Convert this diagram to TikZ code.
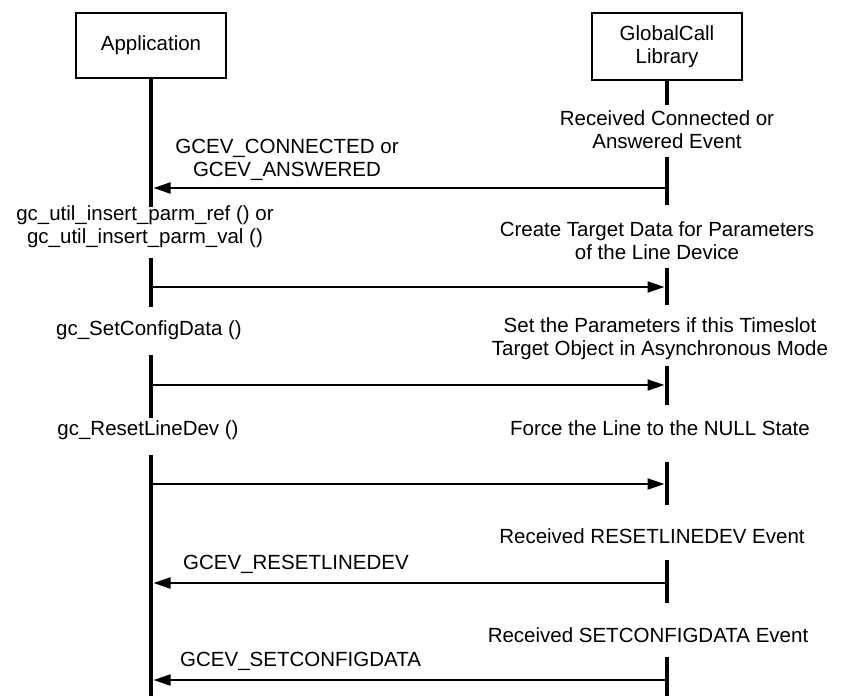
\documentclass[tikz,border=0pt]{standalone}
\usepackage{fontspec}
\setmainfont{Liberation Sans}
\usetikzlibrary{arrows.meta}
\begin{document}
\begin{tikzpicture}[x=1pt,y=-1pt,
  lbl/.style={inner sep=0pt,font=\fontsize{20.5}{23}\selectfont,align=center},
  lifebox/.style={draw,line width=2pt,minimum width=150pt,inner sep=0pt,font=\fontsize{20.5}{23}\selectfont,align=center},
  life/.style={line width=4.5pt},
  msg/.style={line width=2pt,-{Triangle[length=17pt,width=11pt]}}]
\useasboundingbox (0,0) rectangle (845,696);
% boxes
\node[lifebox,minimum height=65pt] (app) at (151,45.5) {Application};
\node[lifebox,minimum height=67pt] (gcl) at (667,46.5) {GlobalCall\\Library};
% left lifeline coordinates
\coordinate (l1b) at (151,207);
\coordinate (l2a) at (151,258); \coordinate (l2b) at (151,307);
\coordinate (l3a) at (151,355); \coordinate (l3b) at (151,418);
\coordinate (l4a) at (151,455); \coordinate (l4b) at (151,696);
% right lifeline coordinates
\coordinate (r1b) at (667,105);
\coordinate (r2a) at (667,157); \coordinate (r2b) at (667,205);
\coordinate (r3a) at (667,268); \coordinate (r3b) at (667,305);
\coordinate (r4a) at (667,366); \coordinate (r4b) at (667,405);
\coordinate (r5a) at (667,462); \coordinate (r5b) at (667,505);
\coordinate (r6a) at (667,560); \coordinate (r6b) at (667,603);
\coordinate (r7a) at (667,657); \coordinate (r7b) at (667,696);
\draw[life] (app.south) -- (l1b);
\draw[life] (l2a) -- (l2b);
\draw[life] (l3a) -- (l3b);
\draw[life] (l4a) -- (l4b);
\draw[life] (gcl.south) -- (r1b);
\draw[life] (r2a) -- (r2b);
\draw[life] (r3a) -- (r3b);
\draw[life] (r4a) -- (r4b);
\draw[life] (r5a) -- (r5b);
\draw[life] (r6a) -- (r6b);
\draw[life] (r7a) -- (r7b);
% message endpoints
\coordinate (m1l) at (153.5,188); \coordinate (m1r) at (667,188);
\coordinate (m2l) at (151,287);   \coordinate (m2r) at (664.5,287);
\coordinate (m3l) at (151,385);   \coordinate (m3r) at (664.5,385);
\coordinate (m4l) at (151,484);   \coordinate (m4r) at (664.5,484);
\coordinate (m5l) at (153.5,583); \coordinate (m5r) at (667,583);
\coordinate (m6l) at (153.5,680); \coordinate (m6r) at (667,680);
\draw[msg] (m1r) -- (m1l);
\draw[msg] (m2l) -- (m2r);
\draw[msg] (m3l) -- (m3r);
\draw[msg] (m4l) -- (m4r);
\draw[msg] (m5r) -- (m5l);
\draw[msg] (m6r) -- (m6l);
% right labels
\node[lbl] (t1) at (667,129.5) {Received Connected or\\Answered Event};
\node[lbl] (t2) at (657,241) {Create Target Data for Parameters\\of the Line Device};
\node[lbl] (t3) at (660,338.5) {Set the Parameters if this Timeslot\\Target Object in Asynchronous Mode};
\node[lbl] (t4) at (660,428) {Force the Line to the NULL State};
\node[lbl] (t5) at (652,536) {Received RESETLINEDEV Event};
\node[lbl] (t6) at (648,635) {Received SETCONFIGDATA Event};
% left labels
\node[lbl] (s1) at (287,159.5) {GCEV\_CONNECTED or\\GCEV\_ANSWERED};
\node[lbl] (s2) at (145,227) {gc\_util\_insert\_parm\_ref () or\\gc\_util\_insert\_parm\_val ()};
\node[lbl] (s3) at (149,330) {gc\_SetConfigData ()};
\node[lbl] (s4) at (148,430) {gc\_ResetLineDev ()};
\node[lbl,anchor=west] (s5) at (183,564) {GCEV\_RESETLINEDEV};
\node[lbl,anchor=west] (s6) at (180,661) {GCEV\_SETCONFIGDATA};
\end{tikzpicture}
\end{document}
